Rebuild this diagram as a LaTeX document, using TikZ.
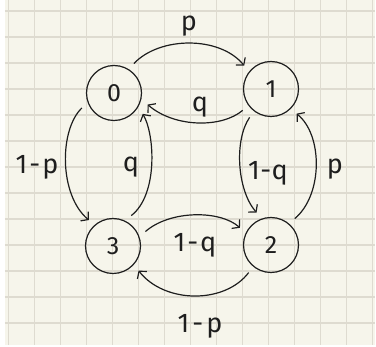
\documentclass[tikz,border=0pt]{standalone}
\usepackage{fontspec}
\setmainfont{Fira Sans}
\usetikzlibrary{arrows.meta}
\definecolor{paper}{HTML}{F6F5EB}
\definecolor{gridc}{HTML}{DEDBD0}
\definecolor{ink}{HTML}{1E1E1E}
\begin{document}
\begin{tikzpicture}[x=1pt,y=-1pt,
  state/.style={circle,draw=ink,line width=1.2pt,minimum size=55pt,inner sep=0pt,outer sep=8pt,text=ink,font=\fontsize{25}{25}\selectfont},
  edge/.style={draw=ink,line width=1.2pt,-{Straight Barb[length=5pt,width=12pt]}},
  lbl/.style={font=\fontsize{27}{27}\selectfont,inner sep=0pt,text=ink},
  gridline/.style={draw=gridc,line width=1.3pt}]
\useasboundingbox (0,0) rectangle (376,347);
\fill[white] (0,0) rectangle (376,347);
\fill[paper] (5,0) rectangle (375,345);
\foreach \i in {0,...,14} \draw[gridline] ({8.5+26*\i},0) -- ({8.5+26*\i},345);
\foreach \j in {0,...,12} \draw[gridline] (5,{11+26*\j}) -- (375,{11+26*\j});

\node[state] (n0) at (114,93) {0};
\node[state] (n1) at (271,89) {1};
\node[state] (n2) at (271,245) {2};
\node[state] (n3) at (113,246) {3};

\draw[edge] (n0.56) .. controls (160,36) and (220,36) .. (n1.139);
\draw[edge] (n1.217) .. controls (222,128) and (175,128) .. (n0.341);
\draw[edge] (n0.205) .. controls (59,130) and (59,195) .. (n3.133);
\draw[edge] (n3.59) .. controls (158,195) and (155,135) .. (n0.324);
\draw[edge] (n1.233) .. controls (234,140) and (237,190) .. (n2.114);
\draw[edge] (n2.48) .. controls (323,195) and (323,135) .. (n1.316);
\draw[edge] (n3.24) .. controls (170,210) and (220,210) .. (n2.151);
\draw[edge] (n2.231) .. controls (225,304) and (165,304) .. (n3.316);

\node[lbl] (l01) at (189,26) {p};
\node[lbl] (l10) at (200,107) {q};
\node[lbl] (l03) at (37,167) {1\kern2pt-\kern2pt p};
\node[lbl] (l30) at (131,167) {q};
\node[lbl] (l12) at (268,173) {1\kern0.5pt-\kern0.5pt q};
\node[lbl] (l21) at (335,169) {p};
\node[lbl] (l32) at (195,245) {1\kern2pt-\kern2pt q};
\node[lbl] (l23) at (200,326) {1\kern3pt-\kern3pt p};
\end{tikzpicture}
\end{document}
